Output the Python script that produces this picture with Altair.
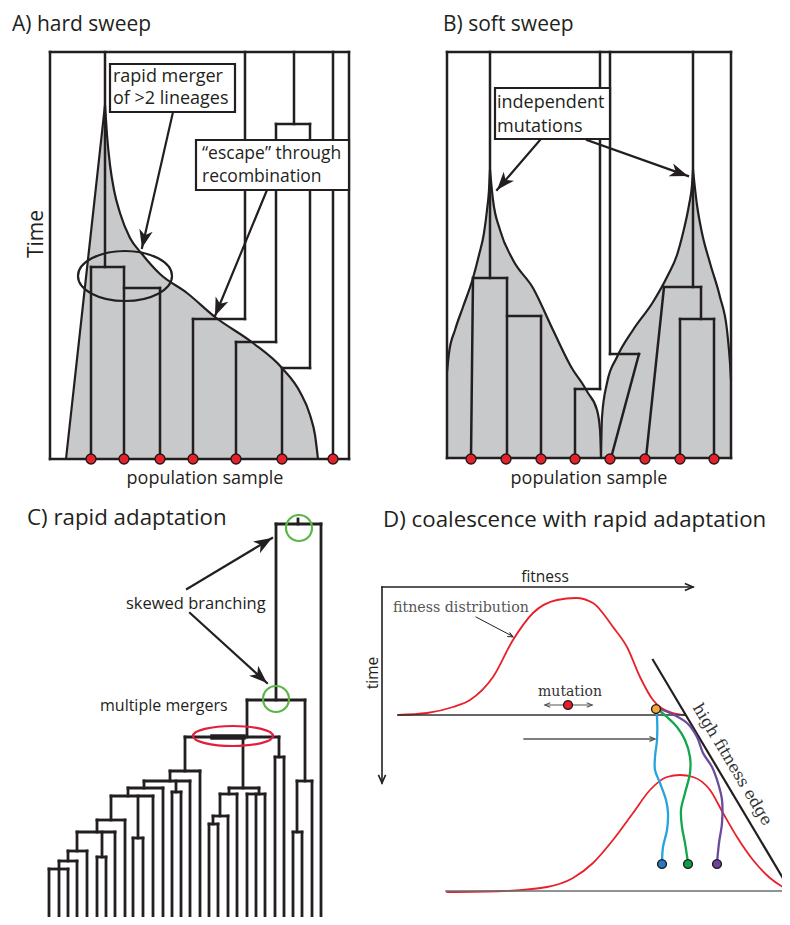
import math
import altair as alt
import pandas as pd

# ------------------------------------------------------------------
# Values (page pixel coordinates)
# ------------------------------------------------------------------
# ---- Panel A : hard sweep ----
A_box = [50, 52, 349, 459]                       # left, top, right, bottom
A_vert = [(105, 52, 267), (91, 267, 459), (124, 267, 459), (160, 288, 459),
          (245, 52, 319), (193, 319, 459), (294, 52, 124), (276, 124, 342),
          (236, 342, 459), (310, 124, 368), (282, 368, 459), (333, 52, 459)]
A_horiz = [(267, 91, 124), (288, 124, 160), (319, 193, 245), (124, 276, 310),
           (342, 236, 276), (368, 282, 310)]
A_samples = [91, 124, 160, 193, 236, 282, 333]
A_fill_left = [(66, 459), (105, 105)]
A_fill_right = [(105, 105), (107, 135), (110, 165), (114, 190), (120, 213), (130, 238),
                (142, 254), (160, 274), (187, 293), (215, 317), (253, 343), (282, 368),
                (300, 392), (310, 415), (315, 435), (318, 459)]

# ---- Panel B : soft sweep ----
B_box = [447, 52, 731, 458]
B_vert = [(490, 52, 278), (507, 278, 458), (541, 316, 458), (600, 52, 389),
          (575, 389, 458), (610, 52, 354), (693, 52, 287), (701, 287, 319),
          (680, 319, 458), (714, 319, 458)]
B_horiz = [(278, 473, 507), (316, 507, 541), (389, 575, 600), (354, 610, 639),
           (287, 664, 701), (319, 680, 714)]
B_diag = [(473, 278, 471, 458), (639, 354, 611, 458), (664, 287, 646, 458)]
B_samples = [471, 506, 541, 575, 610, 645, 680, 714]
B_fill1_left = [(447, 372), (449, 353), (455, 330), (463, 307), (473, 278), (479, 255),
                (484, 233), (487, 210), (489, 190), (490, 170)]
B_fill1_right = [(490, 170), (493, 200), (500, 230), (513, 260), (533, 288), (553, 330),
                 (573, 370), (582, 383), (588, 393), (597, 410), (600, 430), (601, 458)]
B_fill2_left = [(601, 458), (602, 417), (607, 383), (617, 357), (633, 330), (653, 302),
                (668, 275), (677, 255), (683, 233), (689, 205), (692, 185), (693, 170)]
B_fill2_right = [(693, 170), (697, 205), (702, 233), (710, 263), (720, 297), (727, 330),
                 (730, 363), (731, 380)]

# ---- Panel C : rapid adaptation genealogy ----
C_leaf_bottom = 925
C_horiz = [(524, 276, 321), (700, 247, 305), (737, 185, 279), (757, 275, 284),
           (781, 297, 312), (832, 293, 302), (788, 229, 259), (794, 220, 237),
           (794, 247, 265), (816, 213, 228), (824, 209, 218), (771, 170, 200),
           (781, 144, 190), (792, 172, 181), (788, 128, 163), (796, 111, 153),
           (838, 133, 143), (820, 97, 125), (832, 77, 115), (857, 97, 106),
           (851, 68, 87), (861, 59, 77), (869, 49, 68)]
C_vert = [(298, 519, 524), (321, 524, None), (276, 524, 700), (305, 700, 781),
          (247, 700, 737), (312, 781, None), (297, 781, 832), (293, 832, None),
          (302, 832, None), (279, 737, 757), (275, 757, None), (284, 757, None),
          (243, 737, 788), (229, 788, 794), (259, 788, 794), (220, 794, 816),
          (237, 794, None), (213, 816, 824), (228, 816, None), (209, 824, None),
          (218, 824, None), (247, 794, None), (256, 794, None), (265, 794, None),
          (185, 737, 771), (200, 771, None), (170, 771, 781), (144, 781, 788),
          (176, 781, 792), (172, 792, None), (181, 792, None), (190, 781, None),
          (128, 788, 796), (163, 788, None), (111, 796, 820), (138, 796, 838),
          (133, 838, None), (143, 838, None), (153, 796, None), (97, 820, 832),
          (125, 820, None), (77, 832, 851), (102, 832, 857), (115, 832, None),
          (97, 857, None), (106, 857, None), (87, 851, None), (68, 851, 861),
          (77, 861, None), (59, 861, None), (49, 869, None), (68, 869, None)]
C_multi_merger = (737, 213, 243)
C_green_circles = [(299, 528), (276, 699)]
C_red_ellipse = (233, 736)

# ---- Panel D : coalescence with rapid adaptation ----
D_origin = (382, 587)
D_axis_x_end = 693
D_axis_y_end = 783
D_dist_top = [(398, 715), (427, 713), (453, 707), (470, 700), (493, 677), (513, 640),
              (533, 613), (557, 600), (576, 598), (593, 603), (613, 627), (627, 647),
              (640, 677), (653, 700), (670, 712), (685, 715)]
D_dist_bottom = [(447, 892), (503, 891), (547, 887), (573, 878), (593, 863), (613, 840),
                 (633, 813), (650, 790), (667, 777), (680, 775), (693, 777), (710, 790),
                 (723, 813), (737, 837), (753, 860), (770, 878), (790, 891)]
D_base_top = (398, 685, 715)
D_base_bottom = (446, 790, 891)
D_edge = (653, 660, 790, 890)
D_lineage_blue = [(656, 708), (657, 717), (657, 740), (655, 757), (655, 770), (660, 783),
                  (666, 800), (668, 813), (667, 830), (663, 847), (662, 863)]
D_lineage_green = [(656, 708), (667, 717), (677, 727), (685, 740), (690, 757), (690, 773),
                   (685, 793), (681, 810), (682, 827), (685, 843), (688, 863)]
D_lineage_purple = [(656, 708), (670, 713), (687, 723), (697, 737), (703, 753), (712, 767),
                    (718, 783), (722, 800), (722, 823), (719, 843), (717, 863)]
D_ancestor = (656, 709)
D_mutation = (568, 705)
D_mutation_span = (545, 592)
D_tips = [(662, 864), (688, 864), (717, 864)]

# annotation boxes (left, top, right, bottom)
boxes = [(110, 64, 235, 112), (196, 140, 349, 190), (495, 88, 610, 139)]

# arrows: (from_x, from_y, tip_x, tip_y)
solid_arrows = [(173, 112, 142, 248), (267, 190, 215, 316), (540, 140, 497, 190),
                (587, 140, 688, 176), (187, 589, 272, 538), (190, 613, 267, 683)]

# text
sans_left = ["A) hard sweep", "B) soft sweep", "C) rapid adaptation",
             "D) coalescence with rapid adaptation", "rapid merger", "of >2 lineages",
             "\u201cescape\u201d through", "recombination", "independent", "mutations",
             "skewed branching", "multiple mergers"]
sans_left_x = [12, 443, 27, 383, 113, 113, 202, 202, 497, 497, 126, 100]
sans_left_y = [30.5, 30.5, 525, 527, 82, 104, 159, 182, 108, 132, 609, 711]
sans_left_fs = [21, 21, 22.3, 22.3, 18, 18, 17.5, 17.5, 18, 18, 16.5, 16]

sans_center = ["population sample", "population sample", "fitness", "Time", "time"]
sans_center_x = [205, 589, 545, 43, 378]
sans_center_y = [484, 484, 582, 234, 673]
sans_center_fs = [18, 18, 15.5, 21, 15.5]
sans_center_angle = [0, 0, 0, 270, 270]

serif_texts = ["fitness distribution", "mutation", "high fitness edge"]
serif_x = [393, 570, 728]
serif_y = [612, 696, 767]
serif_fs = [14.2, 14, 16]
serif_angle = [0, 0, 59]
serif_align = ["left", "center", "center"]

# ------------------------------------------------------------------
# Build tables
# ------------------------------------------------------------------
INK = "#231f20"
GRAY_FILL = "#c8c9cb"
RED = "#e8202a"

seg_rows = []


def seg(x1, y1, x2, y2, w, c=INK):
    seg_rows.append(dict(x=x1, y=y1, x2=x2, y2=y2, w=w, c=c))


for bx in (A_box, B_box):
    l, t, r, b = bx
    seg(l, t, r, t, 2.5)
    seg(l, t, l, b, 2.5)
    seg(r, t, r, b, 2.5)
    seg(l, b, r, b, 2.5)
for x, y1, y2 in A_vert + B_vert:
    seg(x, y1, x, y2, 2.5)
for y, x1, x2 in A_horiz + B_horiz:
    seg(x1, y, x2, y, 2.5)
for x1, y1, x2, y2 in B_diag:
    seg(x1, y1, x2, y2, 2.5)
for y, x1, x2 in C_horiz:
    seg(x1, y, x2, y, 2.8)
for x, y1, y2 in C_vert:
    seg(x, y1, x, C_leaf_bottom if y2 is None else y2, 2.8)
seg(C_multi_merger[1], C_multi_merger[0], C_multi_merger[2], C_multi_merger[0], 5.5)
for x1, y1, x2, y2 in solid_arrows:
    seg(x1, y1, x2, y2, 2.2)
# panel D straight lines
ox, oy = D_origin
seg(ox, oy, D_axis_x_end, oy, 1.6)
seg(ox, oy, ox, D_axis_y_end, 1.6)
seg(D_base_top[0], D_base_top[2], D_base_top[1], D_base_top[2], 1.3, "#333333")
seg(D_base_bottom[0], D_base_bottom[2], D_base_bottom[1], D_base_bottom[2], 1.6, "#6d6e70")
seg(D_edge[0], D_edge[1], D_edge[2], D_edge[3], 2.2)
seg(476, 617, 512, 636, 1.0)
seg(524, 739, 654, 739, 1.3, "#555555")
seg(D_mutation_span[0], D_mutation[1], D_mutation_span[1], D_mutation[1], 1.2, "#555555")
segs = pd.DataFrame(seg_rows)


def area_table(pts, base):
    return pd.DataFrame(dict(x=[p[0] for p in pts], y=[p[1] for p in pts],
                             base=[base] * len(pts)))


area_tables = [area_table(A_fill_left + A_fill_right[1:], 459),
               area_table(B_fill1_left + B_fill1_right[1:], 458),
               area_table(B_fill2_left + B_fill2_right[1:], 458)]

# smooth curves (x increasing)
curve_rows = []
curve_list = [(A_fill_left, 2.2, INK), (A_fill_right, 2.2, INK),
              (B_fill1_left, 2.2, INK), (B_fill1_right, 2.2, INK),
              (B_fill2_left, 2.2, INK), (B_fill2_right, 2.2, INK),
              (D_dist_top, 1.8, RED), (D_dist_bottom, 1.8, RED)]
for k, (pts, w, c) in enumerate(curve_list):
    for i, (x, y) in enumerate(pts):
        curve_rows.append(dict(x=x, y=y, id=k, i=i, w=w, c=c))
curves = pd.DataFrame(curve_rows)

lin_rows = []
for k, (pts, c) in enumerate([(D_lineage_blue, "#27a3dd"), (D_lineage_green, "#13a64b"),
                              (D_lineage_purple, "#6a4c9c")]):
    for i, (x, y) in enumerate(pts):
        lin_rows.append(dict(x=x, y=y, id=k, i=i, c=c))
lineages = pd.DataFrame(lin_rows)

box_df = pd.DataFrame([dict(x=l, y=t, x2=r, y2=b) for l, t, r, b in boxes])


def ellipse_path(ratio):
    k = 0.5523
    r = ratio
    return (f"M-1,0 C-1,{-k*r:.4f} {-k:.4f},{-r:.4f} 0,{-r:.4f} "
            f"C{k:.4f},{-r:.4f} 1,{-k*r:.4f} 1,0 "
            f"C1,{k*r:.4f} {k:.4f},{r:.4f} 0,{r:.4f} "
            f"C{-k:.4f},{r:.4f} -1,{k*r:.4f} -1,0 Z")


CHEVRON = "M-0.55,1.25 L0,0 L0.55,1.25"
BARB = "M0,0 L0.75,2 L0,1.45 L-0.75,2 Z"


def heading(fx, fy, tx, ty):
    return math.degrees(math.atan2(tx - fx, -(ty - fy))) % 360


open_rows = []
open_rows.append(dict(x=125, y=276, shape=ellipse_path(25 / 47), s=(2 * 47) ** 2, c=INK, w=2.2, a=0))
open_rows.append(dict(x=C_red_ellipse[0], y=C_red_ellipse[1], shape=ellipse_path(10 / 40),
                      s=(2 * 40) ** 2, c="#e31e3c", w=2.2, a=0))
for cx, cy in C_green_circles:
    open_rows.append(dict(x=cx, y=cy, shape=ellipse_path(1.0), s=(2 * 13) ** 2, c="#5cb646", w=2.2, a=0))
# open arrow heads of panel D
for fx, fy, tx, ty, sz, c, w in [(ox, oy, D_axis_x_end, oy, 170, INK, 1.6),
                                 (ox, oy, ox, D_axis_y_end, 170, INK, 1.6),
                                 (476, 617, 513, 637, 70, INK, 1.0),
                                 (524, 739, 655, 739, 80, "#555555", 1.3),
                                 (592, 705, 545, 705, 70, "#555555", 1.2),
                                 (545, 705, 592, 705, 70, "#555555", 1.2)]:
    open_rows.append(dict(x=tx, y=ty, shape=CHEVRON, s=sz, c=c, w=w, a=heading(fx, fy, tx, ty)))
opens = pd.DataFrame(open_rows)

heads = pd.DataFrame([dict(x=tx, y=ty, a=heading(fx, fy, tx, ty)) for fx, fy, tx, ty in solid_arrows])

dot_rows = [dict(x=x, y=A_box[3], c=RED, s=100) for x in A_samples]
dot_rows += [dict(x=x, y=B_box[3] + 1, c=RED, s=100) for x in B_samples]
dot_rows.append(dict(x=D_mutation[0], y=D_mutation[1], c=RED, s=80))
dot_rows.append(dict(x=D_ancestor[0], y=D_ancestor[1], c="#f5a83a", s=80))
for (x, y), c in zip(D_tips, ["#2a78bd", "#129c48", "#71409a"]):
    dot_rows.append(dict(x=x, y=y, c=c, s=80))
dots = pd.DataFrame(dot_rows)

t_sl = pd.DataFrame(dict(t=sans_left, x=sans_left_x, y=sans_left_y, fs=sans_left_fs))
t_sc = pd.DataFrame(dict(t=sans_center, x=sans_center_x, y=sans_center_y, fs=sans_center_fs,
                         a=sans_center_angle))
t_serif = pd.DataFrame(dict(t=serif_texts, x=serif_x, y=serif_y, fs=serif_fs, a=serif_angle,
                            al=serif_align))

# ------------------------------------------------------------------
# Chart
# ------------------------------------------------------------------
W, H = 774, 909
xs = alt.Scale(domain=[8, 8 + W], nice=False, zero=False)
ys = alt.Scale(domain=[8, 8 + H], nice=False, zero=False, reverse=True)


def X(f="x"):
    return alt.X(f"{f}:Q", scale=xs, axis=None)


def Y(f="y", **kw):
    return alt.Y(f"{f}:Q", scale=ys, axis=None, **kw)


area_layers = [
    alt.Chart(t).mark_area(fill=GRAY_FILL, interpolate="linear", opacity=1).encode(
        x=X(), y=Y(stack=None), y2=alt.Y2("base:Q"))
    for t in area_tables
]

curve_layer = alt.Chart(curves).mark_line(interpolate="monotone", strokeCap="round").encode(
    x=X(), y=Y(), detail="id:N", order="i:Q",
    color=alt.Color("c:N", scale=None), strokeWidth=alt.StrokeWidth("w:Q", scale=None))

rule_layer = alt.Chart(segs).mark_rule(strokeCap="square").encode(
    x=X(), y=Y(), x2="x2:Q", y2="y2:Q",
    color=alt.Color("c:N", scale=None), strokeWidth=alt.StrokeWidth("w:Q", scale=None))

lineage_layer = alt.Chart(lineages).mark_line(interpolate="catmull-rom", strokeWidth=2.3,
                                              strokeCap="round").encode(
    x=X(), y=Y(), detail="id:N", order="i:Q", color=alt.Color("c:N", scale=None))

box_layer = alt.Chart(box_df).mark_rect(fill="white", stroke=INK, strokeWidth=2.2).encode(
    x=X(), y=Y(), x2="x2:Q", y2="y2:Q")

open_layer = alt.Chart(opens).mark_point(filled=False, opacity=1).encode(
    x=X(), y=Y(), shape=alt.Shape("shape:N", scale=None), size=alt.Size("s:Q", scale=None),
    color=alt.Color("c:N", scale=None), strokeWidth=alt.StrokeWidth("w:Q", scale=None),
    angle=alt.Angle("a:Q", scale=None))

head_layer = alt.Chart(heads).mark_point(shape=BARB, filled=True, opacity=1, color=INK, size=330).encode(
    x=X(), y=Y(), angle=alt.Angle("a:Q", scale=None))

dot_layer = alt.Chart(dots).mark_point(shape="circle", filled=True, opacity=1, stroke="#1a1a1a",
                                       strokeWidth=1.3).encode(
    x=X(), y=Y(), fill=alt.Fill("c:N", scale=None), size=alt.Size("s:Q", scale=None))

text_sl = alt.Chart(t_sl).mark_text(font="Open Sans", align="left", baseline="alphabetic",
                                    color="#231f20").encode(
    x=X(), y=Y(), text="t:N", size=alt.Size("fs:Q", scale=None))
text_sc = alt.Chart(t_sc).mark_text(font="Open Sans", align="center", baseline="alphabetic",
                                    color="#231f20").encode(
    x=X(), y=Y(), text="t:N", size=alt.Size("fs:Q", scale=None), angle=alt.Angle("a:Q", scale=None))
text_serif_l = alt.Chart(t_serif[t_serif.al == "left"]).mark_text(
    font="DejaVu Serif", align="left", baseline="alphabetic", color="#555555").encode(
    x=X(), y=Y(), text="t:N", size=alt.Size("fs:Q", scale=None), angle=alt.Angle("a:Q", scale=None))
text_serif_c = alt.Chart(t_serif[t_serif.al == "center"]).mark_text(
    font="DejaVu Serif", align="center", baseline="alphabetic", color="#333333").encode(
    x=X(), y=Y(), text="t:N", size=alt.Size("fs:Q", scale=None), angle=alt.Angle("a:Q", scale=None))

chart = alt.layer(*area_layers, curve_layer, rule_layer, lineage_layer, box_layer, open_layer,
                  head_layer, dot_layer, text_sl, text_sc, text_serif_l, text_serif_c).properties(
    width=W, height=H, padding=0, background="white",
    autosize=alt.AutoSizeParams(type="none")
).configure_view(stroke=None)

chart.save("out.html", embed_options={"renderer": "svg", "actions": False})
